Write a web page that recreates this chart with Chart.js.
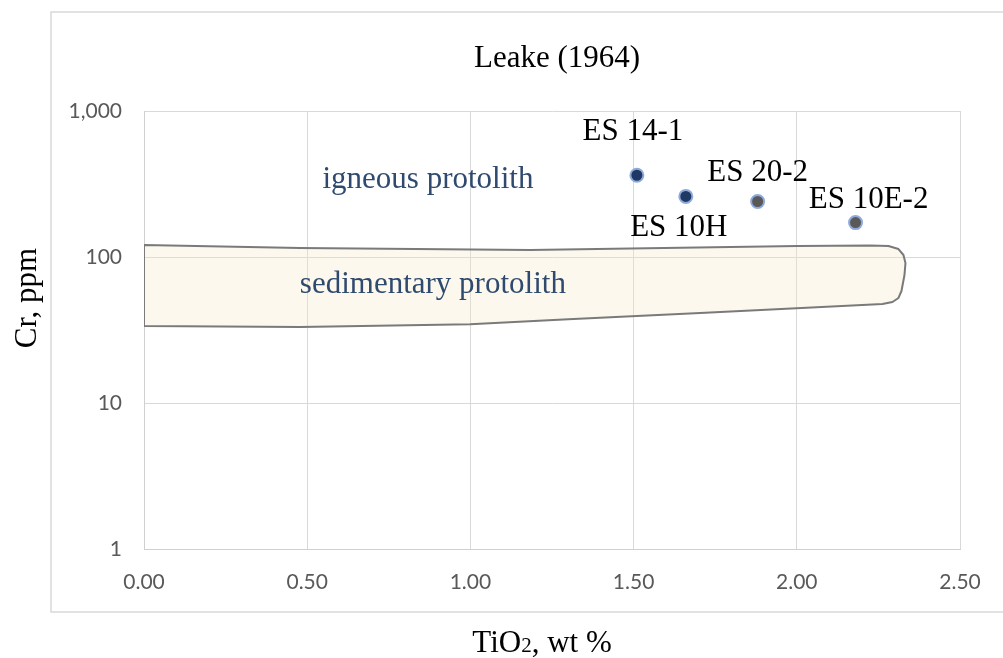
<!DOCTYPE html>
<html>
<head>
<meta charset="utf-8">
<script src="https://cdn.jsdelivr.net/npm/chart.js@4/dist/chart.umd.min.js"></script>
<style>
  html, body { margin: 0; padding: 0; background: #fff; }
  #wrap { width: 1003px; height: 658px; }
</style>
</head>
<body>
<div id="wrap"><canvas id="leakeChart" width="1003" height="658"></canvas></div>
<script>
// samples
const sampleNames = ['ES 14-1', 'ES 10H', 'ES 20-2', 'ES 10E-2'];
const tiO2 = [1.51, 1.66, 1.88, 2.18];
const cr = [363, 260, 240, 172];
const pointFill = ['#203864', '#203864', '#595959', '#595959'];

// sedimentary protolith field outline (TiO2, Cr), closed
const fieldTi = [0, 0.478, 1.183, 2.002, 2.2256, 2.2808, 2.3115, 2.3268, 2.3329, 2.3299,
                 2.3207, 2.3115, 2.2931, 2.2624, 1.704, 1.30, 0.999, 0.478, 0, 0];
const fieldCr = [120.8, 115.2, 111.6, 118.9, 119.9, 118.9, 113.4, 103.2, 90.9, 75.3,
                 58.5, 52.4, 49.2, 47.7, 41.3, 37.4, 34.6, 33.2, 33.7, 120.8];

// axes
const xTicks = [0, 0.5, 1.0, 1.5, 2.0, 2.5];
const yTicks = [1, 10, 100, 1000];

const serif = '"Liberation Serif", "Times New Roman", serif';

const samplePoints = tiO2.map((x, i) => ({ x: x, y: cr[i] }));
const fieldPoints = fieldTi.map((x, i) => ({ x: x, y: fieldCr[i] }));

// label offsets from each point, px
const labelOffsets = [[-4, -43], [-7, 31], [0, -29], [13, -23]];

// text with a subscript part, centred on cx
function drawSubscripted(ctx, parts, cx, baseline) {
    const big = '31px ' + serif, small = '21px ' + serif;
    let total = 0;
    parts.forEach(p => { ctx.font = p.sub ? small : big; total += ctx.measureText(p.t).width; });
    let x = cx - total / 2;
    ctx.textAlign = 'left';
    ctx.textBaseline = 'alphabetic';
    parts.forEach(p => {
        ctx.font = p.sub ? small : big;
        ctx.fillText(p.t, x, baseline);
        x += ctx.measureText(p.t).width;
    });
}

const decorations = {
    id: 'decorations',
    beforeDraw(chart) {
        const ctx = chart.ctx;
        ctx.save();
        ctx.fillStyle = '#fff';
        ctx.fillRect(0, 0, chart.width, chart.height);
        ctx.strokeStyle = '#d9d9d9';
        ctx.lineWidth = 1.5;
        ctx.strokeRect(51, 12, 1000, 600);
        ctx.restore();
    },
    afterDatasetsDraw(chart) {
        const ctx = chart.ctx;
        const xs = chart.scales.x, ys = chart.scales.y;
        ctx.save();
        ctx.textAlign = 'center';
        ctx.textBaseline = 'middle';
        ctx.font = '31px ' + serif;

        // sample names
        ctx.fillStyle = '#000';
        sampleNames.forEach((name, i) => {
            const px = xs.getPixelForValue(tiO2[i]) + labelOffsets[i][0];
            const py = ys.getPixelForValue(cr[i]) + labelOffsets[i][1];
            ctx.fillText(name, px, py);
        });

        // field names
        ctx.fillStyle = '#2f4a6f';
        ctx.fillText('igneous protolith', xs.getPixelForValue(0.87), ys.getPixelForValue(335));
        ctx.fillText('sedimentary protolith', xs.getPixelForValue(0.885), ys.getPixelForValue(64.5));

        // title
        ctx.fillStyle = '#000';
        ctx.fillText('Leake (1964)', 557, 59);

        // y axis title
        ctx.save();
        ctx.translate(28, 298);
        ctx.rotate(-Math.PI / 2);
        ctx.fillText('Cr, ppm', 0, 0);
        ctx.restore();

        // x axis title
        drawSubscripted(ctx, [{ t: 'TiO' }, { t: '2', sub: true }, { t: ', wt %' }], 542, 652);
        ctx.restore();
    }
};

new Chart(document.getElementById('leakeChart'), {
    type: 'scatter',
    data: {
        datasets: [
            {
                label: 'sedimentary protolith',
                data: fieldPoints,
                showLine: true,
                fill: 'shape',
                tension: 0,
                borderColor: '#7a7a7a',
                borderWidth: 2,
                borderJoinStyle: 'round',
                backgroundColor: 'rgba(246, 232, 196, 0.3)',
                pointRadius: 0,
                order: 2
            },
            {
                label: 'samples',
                data: samplePoints,
                pointRadius: 6.5,
                pointBorderWidth: 2,
                pointBackgroundColor: pointFill,
                pointBorderColor: '#8eaadb',
                order: 1
            }
        ]
    },
    options: {
        responsive: false,
        animation: false,
        events: [],
        layout: { padding: { top: 111, right: 43, left: 0, bottom: 0 } },
        plugins: {
            legend: { display: false },
            tooltip: { enabled: false }
        },
        scales: {
            x: {
                type: 'linear',
                min: 0,
                max: 2.5,
                afterBuildTicks: (scale) => { scale.ticks = xTicks.map(v => ({ value: v })); },
                afterFit: (scale) => { scale.height = 658 - 549; },
                grid: { color: '#d9d9d9', drawTicks: false },
                border: { color: '#d0d0d0' },
                ticks: {
                    padding: 21,
                    color: '#595959',
                    font: { family: 'Lato', size: 21 },
                    callback: (v) => Number(v).toFixed(2)
                }
            },
            y: {
                type: 'logarithmic',
                min: 1,
                max: 1000,
                afterBuildTicks: (scale) => { scale.ticks = yTicks.map(v => ({ value: v })); },
                afterFit: (scale) => { scale.width = 144; },
                grid: { color: '#d9d9d9', drawTicks: false },
                border: { color: '#d0d0d0' },
                ticks: {
                    padding: 22,
                    color: '#595959',
                    font: { family: 'Lato', size: 21 },
                    callback: (v) => Number(v).toLocaleString('en-US')
                }
            }
        }
    },
    plugins: [decorations]
});
</script>
</body>
</html>
